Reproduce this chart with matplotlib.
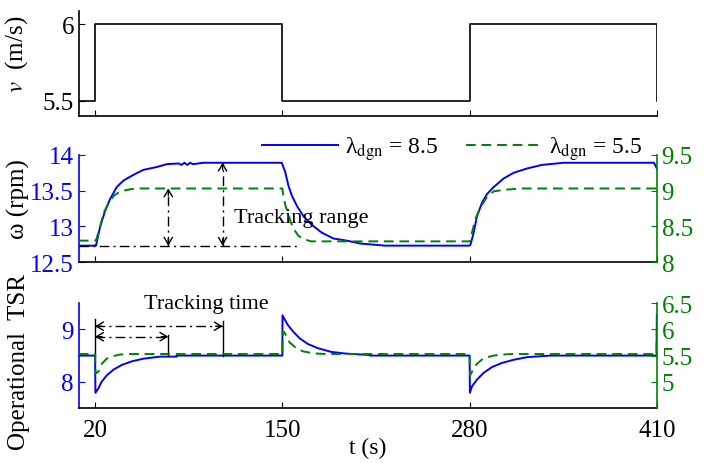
import matplotlib
matplotlib.use('Agg')
import matplotlib.pyplot as plt

plt.rcParams['font.family'] = ['Liberation Serif', 'DejaVu Serif']
plt.rcParams['mathtext.fontset'] = 'stix'
plt.rcParams['font.size'] = 16
plt.rcParams['xtick.labelsize'] = 18
plt.rcParams['ytick.labelsize'] = 18
plt.rcParams['axes.labelsize'] = 18
plt.rcParams['axes.linewidth'] = 1.2
plt.rcParams['xtick.direction'] = 'in'
plt.rcParams['ytick.direction'] = 'in'
plt.rcParams['xtick.major.size'] = 4
plt.rcParams['ytick.major.size'] = 4

BLUE = '#0000ff'
GREEN = '#008000'
DASHED = (0, (5, 3))
DASHDOT = (0, (7, 3, 1.5, 3))

# ---- data ----
t_ticks = [20, 150, 280, 410]
t_lim = [8.7, 410]

# wind speed
t_v = [8.7, 20, 150, 280, 410]
v = [5.5, 6.0, 5.5, 6.0, 5.5]

# rotor speed, lambda_dgn = 8.5 (left axis, rpm)
t_w85 = [8.7, 20, 20.6, 23.3, 26.8, 30.3, 35, 39.6, 46.5, 53.4,
         62.7, 69.7, 78, 80, 82, 84, 86, 88, 95, 149.6,
         152, 154.2, 156.6, 160, 164.7, 170.5, 177.5, 185.5, 194.8, 204,
         221.5, 280, 280.7, 282.8, 285.1, 288.6, 292, 296.7, 303.6, 310.6,
         319.9, 330.3, 345.3, 408, 410]
w85 = [12.73, 12.73, 12.73, 12.98, 13.21, 13.38, 13.55, 13.64, 13.72, 13.79,
       13.83, 13.87, 13.88, 13.86, 13.89, 13.86, 13.89, 13.87, 13.89, 13.89,
       13.76, 13.57, 13.43, 13.29, 13.14, 13.02, 12.91, 12.83, 12.80, 12.76,
       12.73, 12.73, 12.75, 12.91, 13.14, 13.33, 13.45, 13.55, 13.67, 13.75,
       13.81, 13.86, 13.89, 13.89, 13.81]

# rotor speed, lambda_dgn = 5.5 (right axis, rpm)
t_w55 = [8.7, 20, 20.6, 22.5, 26, 29.5, 33, 37.6, 44.6, 50,
         150, 150.5, 152, 154, 156, 158, 161, 165, 170, 280,
         280.6, 281.6, 284, 287.4, 292, 296.7, 303.6, 315, 410]
w55 = [8.30, 8.30, 8.30, 8.43, 8.69, 8.83, 8.93, 8.99, 9.02, 9.03,
       9.03, 8.95, 8.80, 8.68, 8.55, 8.46, 8.37, 8.32, 8.29, 8.29,
       8.30, 8.41, 8.60, 8.76, 8.91, 8.99, 9.01, 9.03, 9.03]

# operational TSR, lambda_dgn = 8.5 (left axis)
t_r85 = [8.7, 20, 20.2, 22.2, 24.5, 28, 32.6, 38.4, 45.4, 53.4,
         65, 76.5, 76.6, 150, 150.1, 151.6, 153.9, 157.4, 162, 167.8,
         174.8, 184, 193.3, 210.7, 210.8, 280, 280.2, 281.6, 285.1, 289.7,
         295.5, 302.5, 310.6, 319.9, 336, 409.8, 410]
r85 = [8.5, 8.5, 7.79, 7.87, 8.0, 8.12, 8.23, 8.32, 8.39, 8.44,
       8.48, 8.48, 8.5, 8.5, 9.27, 9.19, 9.08, 8.96, 8.83, 8.72,
       8.64, 8.57, 8.54, 8.51, 8.5, 8.5, 7.79, 7.91, 8.04, 8.17,
       8.28, 8.36, 8.42, 8.47, 8.5, 8.5, 9.28]

# operational TSR, lambda_dgn = 5.5 (right axis)
t_r55 = [8.7, 20, 20.3, 22.2, 24.5, 28, 32.6, 37.3, 45, 150,
         150.2, 151.2, 152.8, 155.1, 159.7, 164.4, 172.5, 180, 280, 280.3,
         281.6, 285, 289.7, 296.7, 303, 310, 409.8, 410]
r55 = [5.53, 5.53, 5.16, 5.19, 5.34, 5.44, 5.49, 5.52, 5.53, 5.53,
       5.95, 5.95, 5.87, 5.75, 5.64, 5.58, 5.54, 5.53, 5.53, 5.12,
       5.19, 5.34, 5.45, 5.50, 5.52, 5.53, 5.53, 6.0]

# annotations
track_ends = [70.8, 108.5]          # end of tracking for 5.5 / 8.5
range_base = 12.73
range_tops = [13.53, 13.89]
range_line_end = 162
time_levels = [8.86, 9.06]
time_marks_top = [9.19, 8.89, 9.16]
tsr_level = 8.5

labels = ['λ$_{\\rm dgn}$ = 8.5', 'λ$_{\\rm dgn}$ = 5.5']


def arrow_head(ax, xy, direction):
    dx, dy = direction
    ax.annotate('', xy=xy, xytext=(-dx * 5, -dy * 5), textcoords='offset points',
                arrowprops=dict(arrowstyle='->,head_length=0.5,head_width=0.3',
                                lw=1, color='k', shrinkA=0, shrinkB=0,
                                mutation_scale=10))


def dd_arrow(ax, p0, p1, vertical):
    ax.plot([p0[0], p1[0]], [p0[1], p1[1]], color='k', lw=1, ls=DASHDOT)
    if vertical:
        arrow_head(ax, p0, (0, -1))
        arrow_head(ax, p1, (0, 1))
    else:
        arrow_head(ax, p0, (-1, 0))
        arrow_head(ax, p1, (1, 0))


fig = plt.figure(figsize=(7.04, 4.64), dpi=100)
ax_v = fig.add_axes([0.112, 0.748, 0.821, 0.226])
ax_w = fig.add_axes([0.112, 0.433, 0.821, 0.231], sharex=ax_v)
ax_r = fig.add_axes([0.112, 0.1185, 0.821, 0.226], sharex=ax_v)

# ---- top: wind speed ----
ax_v.plot(t_v, v, color='k', lw=1.2, drawstyle='steps-post')
ax_v.set_ylim(5.4, 6.085)
ax_v.set_yticks([5.5, 6])
ax_v.set_yticklabels(['5.5', '6'])
ax_v.set_ylabel(r'$v$  (m/s)')
ax_v.yaxis.set_label_coords(-0.085, 0.6)
for s in ['top', 'right']:
    ax_v.spines[s].set_visible(False)
ax_v.tick_params(axis='x', labelbottom=False)

# ---- middle: rotor speed ----
ax_w2 = ax_w.twinx()
l1, = ax_w.plot(t_w85, w85, color=BLUE, lw=1.4)
l2, = ax_w2.plot(t_w55, w55, color=GREEN, lw=1.4, ls=DASHED)
ax_w.set_ylim(12.5, 14)
ax_w2.set_ylim(8, 9.5)
ax_w.set_yticks([12.5, 13, 13.5, 14])
ax_w.set_yticklabels(['12.5', '13', '13.5', '14'])
ax_w2.set_yticks([8, 8.5, 9, 9.5])
ax_w2.set_yticklabels(['8', '8.5', '9', '9.5'])
ax_w.set_ylabel('ω (rpm)')
ax_w.yaxis.set_label_coords(-0.085, 0.6)
ax_w.tick_params(axis='x', labelbottom=False)

ax_w.plot([t_lim[0], range_line_end], [range_base, range_base],
          color='k', lw=1, ls=DASHDOT)
for te, top in zip(track_ends, range_tops):
    dd_arrow(ax_w, (te, range_base), (te, top), True)
ax_w.text(163, 13.13, 'Tracking range', ha='center', va='center')

ax_w.legend([l1, l2], labels, loc='center', bbox_to_anchor=(0.646, 1.06),
            ncol=2, frameon=False, handlelength=3.2, handletextpad=0.3,
            columnspacing=1.2, borderaxespad=0, borderpad=0, fontsize=17)

# ---- bottom: operational TSR ----
ax_r2 = ax_r.twinx()
ax_r.plot(t_r85, r85, color=BLUE, lw=1.4)
ax_r2.plot(t_r55, r55, color=GREEN, lw=1.4, ls=DASHED)
ax_r.set_ylim(7.5, 9.5)
ax_r2.set_ylim(4.5, 6.5)
ax_r.set_yticks([8, 9])
ax_r.set_yticklabels(['8', '9'])
ax_r2.set_yticks([5, 5.5, 6, 6.5])
ax_r2.set_yticklabels(['5', '5.5', '6', '6.5'])
ax_r.set_ylabel('Operational  TSR')
ax_r.yaxis.set_label_coords(-0.085, 0.45)
ax_r.set_xlabel('t (s)', labelpad=-3, fontsize=17)

ax_r.plot([t_ticks[0], t_ticks[0]], [tsr_level, time_marks_top[0]], color='k', lw=1)
for te, top in zip(track_ends, time_marks_top[1:]):
    ax_r.plot([te, te], [tsr_level, top], color='k', lw=1)
for te, lev in zip(track_ends, time_levels):
    dd_arrow(ax_r, (t_ticks[0], lev), (te, lev), False)
ax_r.text(97.5, 9.5, 'Tracking time', ha='center', va='center')

# ---- shared styling ----
ax_v.set_xlim(*t_lim)
ax_v.set_xticks(t_ticks)
ax_r.set_xticklabels([str(t) for t in t_ticks])
for ax in [ax_v, ax_w, ax_r]:
    ax.tick_params(axis='x', pad=8)
for ax, ax2 in [(ax_w, ax_w2), (ax_r, ax_r2)]:
    ax.spines['top'].set_visible(False)
    ax.spines['right'].set_visible(False)
    ax.spines['left'].set_color(BLUE)
    ax.tick_params(axis='y', colors=BLUE)
    for s in ['top', 'left', 'bottom']:
        ax2.spines[s].set_visible(False)
    ax2.spines['right'].set_color(GREEN)
    ax2.tick_params(axis='y', colors=GREEN)

fig.savefig('out.png', dpi=100)
